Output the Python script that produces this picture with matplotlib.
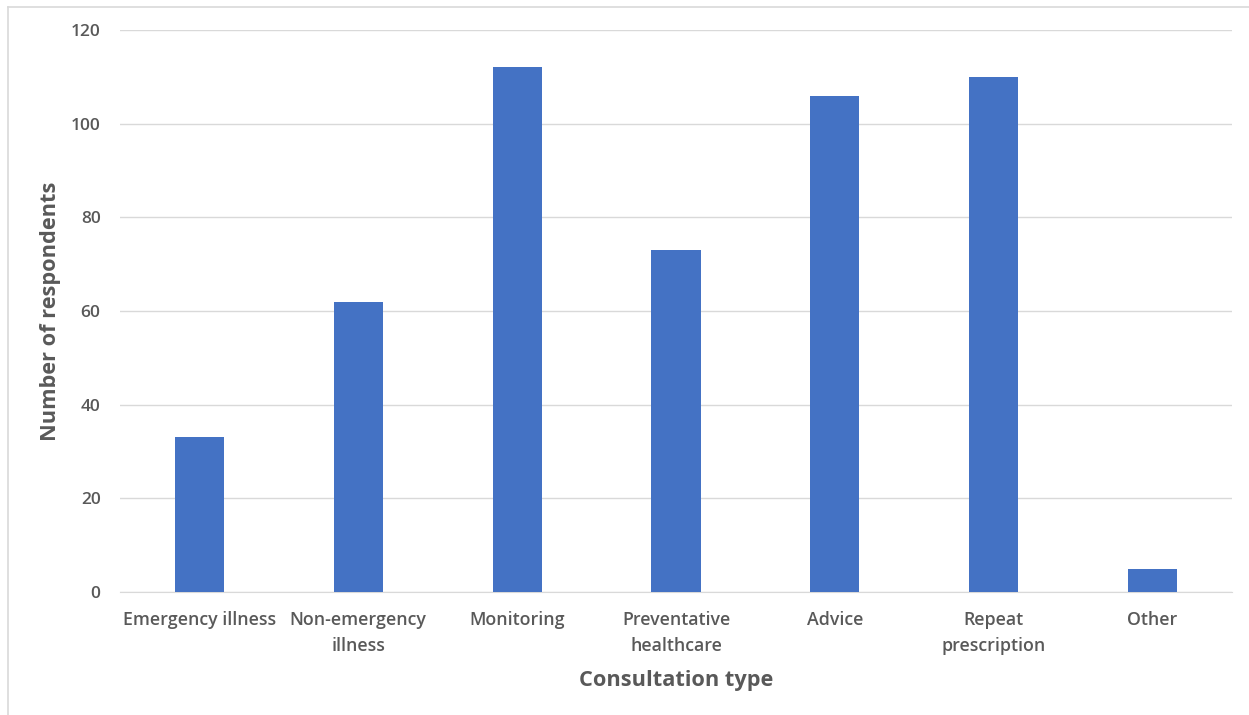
import matplotlib
matplotlib.use("Agg")
import matplotlib.pyplot as plt
from matplotlib.lines import Line2D

categories = ["Emergency illness", "Non-emergency\nillness", "Monitoring",
              "Preventative\nhealthcare", "Advice", "Repeat\nprescription", "Other"]
respondents = [33, 62, 112, 73, 106, 110, 5]
y_ticks = [0, 20, 40, 60, 80, 100, 120]

BAR = "#4472C4"
TEXT = "#595959"
GRID = "#D9D9D9"

plt.rcParams["font.family"] = ["Open Sans", "DejaVu Sans"]

fig = plt.figure(figsize=(12.49, 7.15), dpi=100)
ax = fig.add_axes([0.0961, 0.172, 0.8903, 0.786])

x = range(len(categories))
ax.bar(x, respondents, width=0.31, color=BAR, zorder=3)

ax.set_xlim(-0.5, len(categories) - 0.5)
ax.set_ylim(0, 120)
ax.set_yticks(y_ticks)
ax.set_xticks(list(x))
ax.set_xticklabels(categories, fontsize=12.8, color=TEXT, linespacing=1.55,
                   fontweight="semibold")
for lbl in ax.get_yticklabels():
    lbl.set_fontweight("semibold")
ax.tick_params(axis="y", labelsize=12.5, labelcolor=TEXT, length=0, pad=14)
ax.tick_params(axis="x", length=0, pad=14)
ax.grid(axis="y", color=GRID, lw=1, zorder=0)
for s in ["top", "right", "left"]:
    ax.spines[s].set_visible(False)
ax.spines["bottom"].set_color(GRID)

ax.set_xlabel("Consultation type", fontsize=15.7, fontweight="bold",
              color=TEXT, labelpad=11)
ax.set_ylabel("Number of respondents", fontsize=15.7, fontweight="bold",
              color=TEXT, labelpad=7)

# light chart-area frame along top and left edge
fig.add_artist(Line2D([8 / 1249, 1], [1 - 6.5 / 715] * 2, color=GRID, lw=1.2))
fig.add_artist(Line2D([8 / 1249] * 2, [0, 1 - 6.5 / 715], color=GRID, lw=1.2))

fig.savefig("out.png", dpi=100)
